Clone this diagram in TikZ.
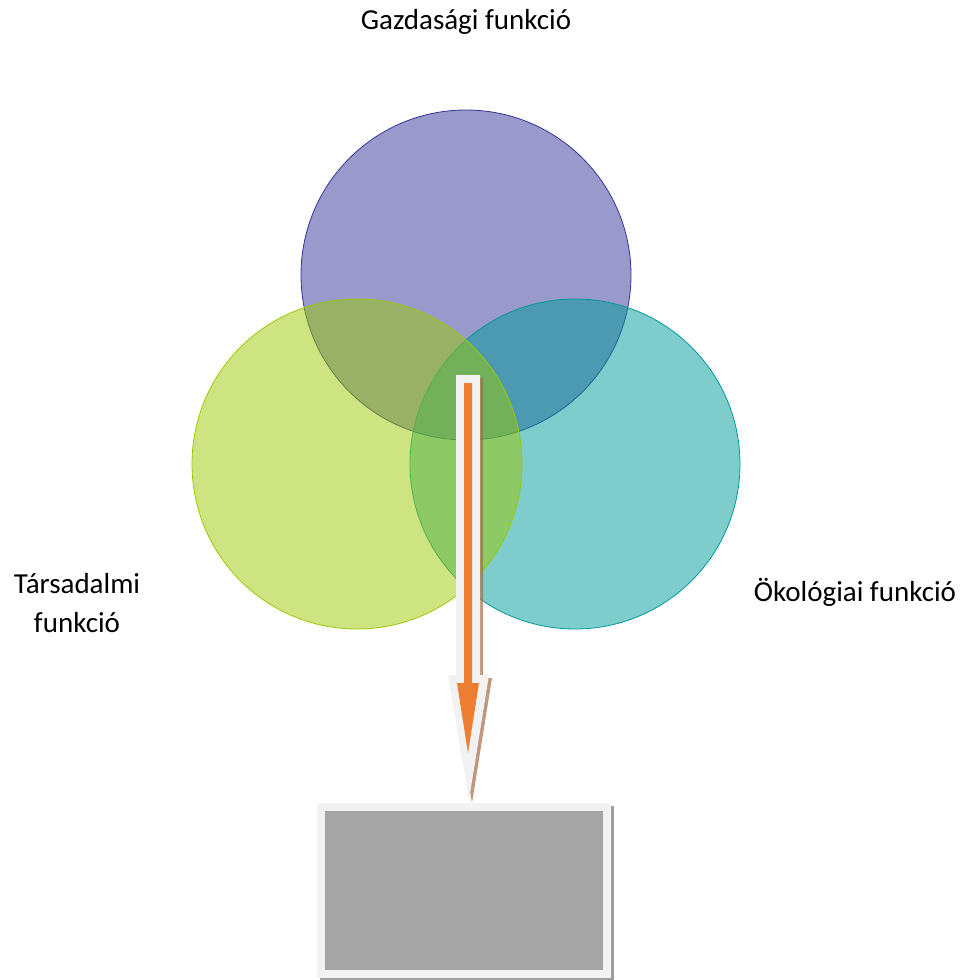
\documentclass[tikz,border=0pt]{standalone}
\usepackage{fontspec}
\setmainfont{Carlito}
\usetikzlibrary{calc}
\definecolor{cpurple}{RGB}{51,51,153}
\definecolor{cteal}{RGB}{0,153,153}
\definecolor{cgreen}{RGB}{155,201,1}
\definecolor{cframe}{RGB}{242,242,242}
\definecolor{cbox}{RGB}{165,165,165}
\definecolor{cshadow}{RGB}{160,160,160}
\definecolor{corange}{RGB}{237,125,49}
\definecolor{cbrown}{RGB}{165,105,70}
\tikzset{
  venn/.style={circle, minimum size=330pt, inner sep=0pt, line width=0.8pt, fill opacity=0.5, draw opacity=1},
  lbl/.style={font=\fontsize{29}{39}\selectfont, align=center, text=black},
}
\begin{document}
\begin{tikzpicture}[x=1pt,y=-1pt]
\useasboundingbox (0,0) rectangle (961,980);
% circles
\node[venn, draw=cpurple, fill=cpurple] (gaz) at (466,275) {};
\node[venn, draw=cteal, fill=cteal] (oko) at (575,464) {};
\node[venn, draw=cgreen, fill=cgreen] (tar) at (357,464) {};
% labels
\node[lbl] (tgaz) at (466,22) {Gazdasági funkció};
\node[lbl] (ttar) at (77,603) {Társadalmi\\funkció};
\node[lbl] (toko) at (855,592) {Ökológiai funkció};
% result box
\fill[cshadow] (320,806) rectangle (614,981);
\node[fill=cbox, draw=cframe, line width=8pt, minimum width=286pt, minimum height=167pt, inner sep=0pt] (res) at (464,890.5) {};
% arrow from centre to box
\coordinate (src) at (468,375);
\coordinate (tip) at (469,800);
\coordinate (ssrc) at ($(src)+(3,3)$);
\coordinate (stip) at ($(tip)+(3,3)$);
\fill[cbrown, opacity=0.7]
  ($(ssrc)+(-12,0)$) -- ($(ssrc)+(12,0)$) -- ($(ssrc)+(12,300)$) -- ($(ssrc)+(21,300)$)
  -- (stip) -- ($(ssrc)+(-20,300)$) -- ($(ssrc)+(-12,300)$) -- cycle;
\fill[cframe]
  ($(src)+(-12,0)$) -- ($(src)+(12,0)$) -- ($(src)+(12,300)$) -- ($(src)+(21,300)$)
  -- (tip) -- ($(src)+(-20,300)$) -- ($(src)+(-12,300)$) -- cycle;
\fill[corange]
  ($(src)+(-4,8)$) -- ($(src)+(4,8)$) -- ($(src)+(4,308)$) -- ($(src)+(11,308)$)
  -- ($(src)+(0,378)$) -- ($(src)+(-11,308)$) -- ($(src)+(-4,308)$) -- cycle;
\end{tikzpicture}
\end{document}
